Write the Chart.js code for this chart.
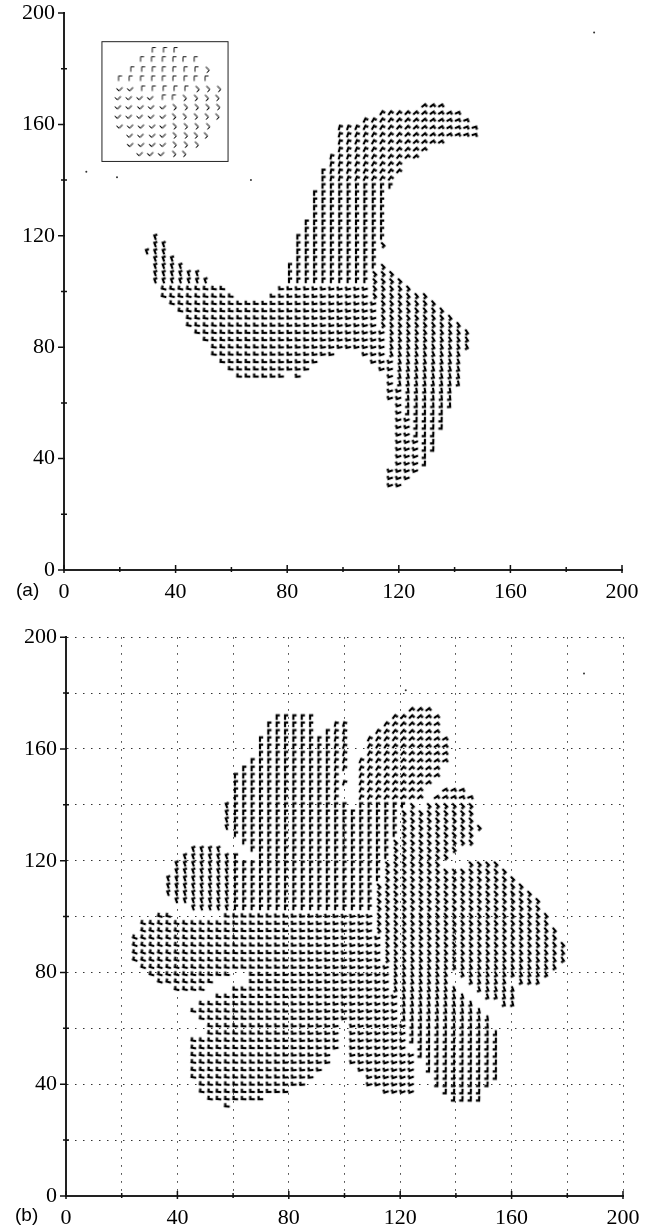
<!DOCTYPE html>
<html>
<head>
<meta charset="utf-8">
<script src="https://cdn.jsdelivr.net/npm/chart.js@4"></script>
<style>
html,body{margin:0;padding:0;background:#fff;}
#page{position:relative;width:665px;height:1228px;overflow:hidden;}
canvas{position:absolute;left:0;}
.tag{position:absolute;font-family:"Liberation Sans",sans-serif;font-size:19px;color:#000;}
</style>
</head>
<body>
<div id="page">
<canvas id="graficaA" width="665" height="620" style="top:-10px"></canvas>
<canvas id="graficaB" width="665" height="613" style="top:615px"></canvas>
<div class="tag" style="left:16px;top:579px">(a)</div>
<div class="tag" style="left:15px;top:1204px">(b)</div>
</div>
<script>
const tickValues = [0,20,40,60,80,100,120,140,160,180,200];
const tickLabels = ['0','','40','','80','','120','','160','','200'];

// each row: y first, then the x of every mark in that row
const filasA = [
[166.4,129,132,135],
[163.8,114,117,120,123,126,129,132,135,138,141],
[161.2,108,111,114,117,120,123,126,129,132,135,138,141,144],
[158.6,99,102,105,108,111,114,117,120,123,126,129,132,135,138,141,144,147],
[156,99,102,105,108,111,114,117,120,123,126,129,132,135,138,141,144,147],
[153.4,99,102,105,108,111,114,117,120,123,126,129,132,135],
[150.7,99,102,105,108,111,114,117,120,123,126,129],
[148.1,96,99,102,105,108,111,114,117,120,123,126],
[145.5,96,99,102,105,108,111,114,117,120],
[142.9,93,96,99,102,105,108,111,114,117,120],
[140.3,93,96,99,102,105,108,111,114,117],
[137.7,93,96,99,102,105,108,111,114,117],
[135.1,90,93,96,99,102,105,108,111,114],
[132.5,90,93,96,99,102,105,108,111,114],
[129.9,90,93,96,99,102,105,108,111,114],
[127.2,90,93,96,99,102,105,108,111,114],
[124.6,87,90,93,96,99,102,105,108,111,114],
[122,87,90,93,96,99,102,105,108,111,114],
[119.4,33,84,87,90,93,96,99,102,105,108,111,114],
[116.8,33,36,84,87,90,93,96,99,102,105,108,111,114],
[114.2,30,33,36,84,87,90,93,96,99,102,105,108,111],
[111.6,33,36,39,84,87,90,93,96,99,102,105,108,111],
[109,33,36,39,42,81,84,87,90,93,96,99,102,105,108,111,114],
[106.4,33,36,39,42,45,48,81,84,87,90,93,96,99,102,105,108,111,114,117],
[103.8,33,36,39,42,45,48,51,81,84,87,90,93,96,99,102,105,108,111,114,117,120],
[101.2,36,39,42,45,48,51,54,57,78,81,84,87,90,93,96,99,102,105,108,111,114,117,120,123],
[98.5,36,39,42,45,48,51,54,57,60,75,78,81,84,87,90,93,96,99,102,105,108,111,114,117,120,123,126,129],
[95.9,39,42,45,48,51,54,57,60,63,66,69,72,75,78,81,84,87,90,93,96,99,102,105,108,111,114,117,120,123,126,129,132],
[93.3,42,45,48,51,54,57,60,63,66,69,72,75,78,81,84,87,90,93,96,99,102,105,108,111,114,117,120,123,126,129,132,135],
[90.7,45,48,51,54,57,60,63,66,69,72,75,78,81,84,87,90,93,96,99,102,105,108,111,114,117,120,123,126,129,132,135,138],
[88.1,45,48,51,54,57,60,63,66,69,72,75,78,81,84,87,90,93,96,99,102,105,108,111,114,117,120,123,126,129,132,135,138,141],
[85.5,48,51,54,57,60,63,66,69,72,75,78,81,84,87,90,93,96,99,102,105,108,111,114,117,120,123,126,129,132,135,138,141,144],
[82.9,51,54,57,60,63,66,69,72,75,78,81,84,87,90,93,96,99,102,105,108,111,114,117,120,123,126,129,132,135,138,141,144],
[80.3,54,57,60,63,66,69,72,75,78,81,84,87,90,93,96,99,102,105,108,111,114,117,120,123,126,129,132,135,138,141,144],
[77.7,54,57,60,63,66,69,72,75,78,81,84,87,90,93,96,108,111,114,117,120,123,126,129,132,135,138,141],
[75,57,60,63,66,69,72,75,78,81,84,87,90,111,114,117,120,123,126,129,132,135,138,141],
[72.4,60,63,66,69,72,75,78,81,84,87,114,117,120,123,126,129,132,135,138,141],
[69.8,63,66,69,72,75,78,84,117,120,123,126,129,132,135,138,141],
[67.2,117,120,123,126,129,132,135,138,141],
[64.6,117,120,123,126,129,132,135,138],
[62,117,120,123,126,129,132,135,138],
[59.4,120,123,126,129,132,135,138],
[56.8,120,123,126,129,132,135],
[54.2,120,123,126,129,132,135],
[51.6,120,123,126,129,132,135],
[48.9,120,123,126,129,132],
[46.3,120,123,126,129,132],
[43.7,120,123,126,129,132],
[41.1,120,123,126,129],
[38.5,120,123,126,129],
[35.9,117,120,123,126],
[33.3,117,120,123],
[30.7,117,120]
];

const filasB = [
[173.8,124,127,130],
[171.2,76,79,82,85,88,118,121,124,127,130,133],
[168.6,73,76,79,82,85,88,97,100,115,118,121,124,127,130,133],
[165.9,73,76,79,82,85,88,94,97,100,112,115,118,121,124,127,130,133],
[163.3,70,73,76,79,82,85,88,91,94,97,100,109,112,115,118,121,124,127,130,133,136],
[160.7,70,73,76,79,82,85,88,91,94,97,100,109,112,115,118,121,124,127,130,133,136],
[158.1,70,73,76,79,82,85,88,91,94,97,100,109,112,115,118,121,124,127,130,133,136],
[155.5,67,70,73,76,79,82,85,88,91,94,97,100,106,109,112,115,118,121,124,127,130,133,136],
[152.8,64,67,70,73,76,79,82,85,88,91,94,97,100,106,109,112,115,118,121,124,127,130,133],
[150.2,61,64,67,70,73,76,79,82,85,88,91,94,97,106,109,112,115,118,121,124,127,130,133],
[147.6,61,64,67,70,73,76,79,82,85,88,91,94,97,100,106,109,112,115,118,121,124,127,130],
[145,61,64,67,70,73,76,79,82,85,88,91,94,97,106,109,112,115,118,121,124,127,136,139,142],
[142.4,61,64,67,70,73,76,79,82,85,88,91,94,97,106,109,112,115,118,121,124,127,133,136,139,142,145],
[139.7,58,61,64,67,70,73,76,79,82,85,88,91,94,97,100,106,109,112,115,118,121,124,130,133,136,139,142,145],
[137.1,58,61,64,67,70,73,76,79,82,85,88,91,94,97,100,103,106,109,112,115,118,121,124,127,130,133,136,139,142,145],
[134.5,58,61,64,67,70,73,76,79,82,85,88,91,94,97,100,103,106,109,112,115,118,121,124,127,130,133,136,139,142,145],
[131.9,58,61,64,67,70,73,76,79,82,85,88,91,94,97,100,103,106,109,112,115,118,121,124,127,130,133,136,139,142,145,148],
[129.3,61,64,67,70,73,76,79,82,85,88,91,94,97,100,103,106,109,112,115,118,121,124,127,130,133,136,139,142,145],
[126.6,64,67,70,73,76,79,82,85,88,91,94,97,100,103,106,109,112,115,118,121,124,127,130,133,136,139,142,145],
[124,46,49,52,55,67,70,73,76,79,82,85,88,91,94,97,100,103,106,109,112,115,118,121,124,127,130,133,136,139],
[121.4,43,46,49,52,55,58,61,70,73,76,79,82,85,88,91,94,97,100,103,106,109,112,115,118,121,124,127,130,133,136],
[118.8,40,43,46,49,52,55,58,61,64,67,70,73,76,79,82,85,88,91,94,97,100,103,106,109,112,115,118,121,124,127,130,133,145,148,151,154],
[116.2,40,43,46,49,52,55,58,61,64,67,70,73,76,79,82,85,88,91,94,97,100,103,106,109,112,115,118,121,124,127,130,133,136,139,142,145,148,151,154,157],
[113.5,37,40,43,46,49,52,55,58,61,64,67,70,73,76,79,82,85,88,91,94,97,100,103,106,109,112,115,118,121,124,127,130,133,136,139,142,145,148,151,154,157,160],
[110.9,37,40,43,46,49,52,55,58,61,64,67,70,73,76,79,82,85,88,91,94,97,100,103,106,109,112,115,118,121,124,127,130,133,136,139,142,145,148,151,154,157,160,163],
[108.3,37,40,43,46,49,52,55,58,61,64,67,70,73,76,79,82,85,88,91,94,97,100,103,106,109,112,115,118,121,124,127,130,133,136,139,142,145,148,151,154,157,160,163,166],
[105.7,40,43,46,49,52,55,58,61,64,67,70,73,76,79,82,85,88,91,94,97,100,103,106,109,112,115,118,121,124,127,130,133,136,139,142,145,148,151,154,157,160,163,166,169],
[103.1,46,49,52,55,58,61,64,67,70,73,76,79,82,85,88,91,94,97,100,103,106,109,112,115,118,121,124,127,130,133,136,139,142,145,148,151,154,157,160,163,166,169],
[100.4,34,37,58,61,64,67,70,73,76,79,82,85,88,91,94,97,100,103,106,109,112,115,118,121,124,127,130,133,136,139,142,145,148,151,154,157,160,163,166,169,172],
[97.8,28,31,34,37,40,43,46,49,52,55,58,61,64,67,70,73,76,79,82,85,88,91,94,97,100,103,106,109,112,115,118,121,124,127,130,133,136,139,142,145,148,151,154,157,160,163,166,169,172],
[95.2,28,31,34,37,40,43,46,49,52,55,58,61,64,67,70,73,76,79,82,85,88,91,94,97,100,103,106,109,112,115,118,121,124,127,130,133,136,139,142,145,148,151,154,157,160,163,166,169,172,175],
[92.6,25,28,31,34,37,40,43,46,49,52,55,58,61,64,67,70,73,76,79,82,85,88,91,94,97,100,103,106,109,112,115,118,121,124,127,130,133,136,139,142,145,148,151,154,157,160,163,166,169,172,175],
[90,25,28,31,34,37,40,43,46,49,52,55,58,61,64,67,70,73,76,79,82,85,88,91,94,97,100,103,106,109,112,115,118,121,124,127,130,133,136,139,142,145,148,151,154,157,160,163,166,169,172,175,178],
[87.3,25,28,31,34,37,40,43,46,49,52,55,58,61,64,67,70,73,76,79,82,85,88,91,94,97,100,103,106,109,112,115,118,121,124,127,130,133,136,139,142,145,148,151,154,157,160,163,166,169,172,175,178],
[84.7,25,28,31,34,37,40,43,46,49,52,55,58,61,64,67,70,73,76,79,82,85,88,91,94,97,100,103,106,109,112,115,118,121,124,127,130,133,136,139,142,145,148,151,154,157,160,163,166,169,172,175,178],
[82.1,28,31,34,37,40,43,46,49,52,55,58,61,64,67,70,73,76,79,82,85,88,91,94,97,100,103,106,109,112,115,118,121,124,127,130,133,136,139,142,145,148,151,154,157,160,163,166,169,172,175],
[79.5,31,34,37,40,43,46,49,52,55,58,67,70,73,76,79,82,85,88,91,94,97,100,103,106,109,112,115,118,121,124,127,130,133,136,142,145,148,151,154,157,160,163,166,169,172],
[76.9,34,37,40,43,46,49,52,67,70,73,76,79,82,85,88,91,94,97,100,103,106,109,112,115,118,121,124,127,130,133,136,145,148,151,154,157,163,166,169],
[74.2,40,43,46,49,61,64,67,70,73,76,79,82,85,88,91,94,97,100,103,106,109,112,115,118,121,124,127,130,133,136,139,148,151,154,157,160],
[71.6,55,58,61,64,67,70,73,76,79,82,85,88,91,94,97,100,103,106,109,112,115,118,121,124,127,130,133,136,139,142,151,154,157,160],
[69,49,52,55,58,61,64,67,70,73,76,79,82,85,88,91,94,97,100,103,106,109,112,115,118,121,124,127,130,133,136,139,142,145,157,160],
[66.4,46,49,52,55,58,61,64,67,70,73,76,79,82,85,88,91,94,97,100,103,106,109,112,115,118,121,124,127,130,133,136,139,142,145,148],
[63.8,49,52,55,58,61,64,67,70,73,76,79,82,85,88,91,94,97,100,103,106,109,112,115,118,121,124,127,130,133,136,139,142,145,148,151],
[61.1,52,55,58,61,64,67,70,73,76,79,82,85,88,91,94,97,103,106,109,112,115,118,121,124,127,130,133,136,139,142,145,148,151],
[58.5,52,55,58,61,64,67,70,73,76,79,82,85,88,91,94,97,103,106,109,112,115,118,121,124,127,130,133,136,139,142,145,148,151,154],
[55.9,46,49,52,55,58,61,64,67,70,73,76,79,82,85,88,91,94,97,103,106,109,112,115,118,121,124,127,130,133,136,139,142,145,148,151,154],
[53.3,46,49,52,55,58,61,64,67,70,73,76,79,82,85,88,91,94,97,103,106,109,112,115,118,121,127,130,133,136,139,142,145,148,151,154],
[50.7,46,49,52,55,58,61,64,67,70,73,76,79,82,85,88,91,94,103,106,109,112,115,118,121,124,127,130,133,136,139,142,145,148,151,154],
[48.1,46,49,52,55,58,61,64,67,70,73,76,79,82,85,88,91,94,103,106,109,112,115,118,121,124,130,133,136,139,142,145,148,151,154],
[45.4,46,49,52,55,58,61,64,67,70,73,76,79,82,85,88,91,106,109,112,115,118,121,124,130,133,136,139,142,145,148,151,154],
[42.8,46,49,52,55,58,61,64,67,70,73,76,79,82,85,88,109,112,115,118,121,124,133,136,139,142,145,148,151,154],
[40.2,49,52,55,58,61,64,67,70,73,76,79,82,85,109,112,115,118,121,124,133,136,139,142,145,148,151],
[37.6,49,52,55,58,61,64,67,70,73,76,79,115,118,121,124,136,139,142,145,148],
[35,52,55,58,61,64,67,70,139,142,145,148],
[32.4,58]
];

// small field drawn inside the box of panel (a), three groups of mark direction
const insetArriba = [
[186.7,32,36,39.8],
[183.4,27.8,31.7,35.6,39.4,43,47],
[179.8,24.3,28.2,32,35.6,39.4,43.4,47.3],
[176.5,19.9,23.7,27.8,31.8,35.6,39.4,43.4,47,50.9],
[172.9,28.2,32,35.9,39.8,43.7],
[169.7,35.6,39.2],
];
const insetDerecha = [
[179.8,51.2],
[172.9,47.6,51.4,55.3],
[169.7,43,47,50.9,54.7],
[166.4,39.4,43.4,47.3,51.2,55],
[163,39.2,43,47,50.9,54.7],
[159.5,39.4,43.4,47.3,51.4],
[156.2,39.4,43.4,47,50.6],
[152.9,39.4,43.4,47.3],
[149.6,39.2,42.8]
];
const insetAbajo = [
[172.9,20.1,23.9],
[169.7,19.5,23.4,27.3,31.1],
[166.4,19.5,23.4,27.6,31.4,35.6],
[163,19.5,23.4,27.3,31.4,35.6],
[159.5,20.1,23.9,27.8,31.8,35.6],
[156.2,23.7,27.6,31.8,35.6],
[152.9,23.9,27.8,31.8,35.6],
[149.6,27.3,31.1,35]
];
const manchasA = [[8,143],[19,141],[67,140],[190,193]];
const manchasB = [[186,187],[122,181]];

function puntos(filas){
    var salida = [];
    for (var i = 0; i < filas.length; i++){
        for (var j = 1; j < filas[i].length; j++){
            salida.push({x: filas[i][j], y: filas[i][0]});
        }
    }
    return salida;
}

// one small mark, vertex at the top left, long stem and short flag
function crearMarca(grosor, largo, corto, color){
    var c = document.createElement('canvas');
    c.width = 18;
    c.height = 18;
    var ctx = c.getContext('2d');
    ctx.translate(9, 9);
    ctx.strokeStyle = color;
    ctx.lineWidth = grosor;
    ctx.lineJoin = 'miter';
    ctx.beginPath();
    ctx.moveTo(-1, largo / 2);
    ctx.lineTo(-1, -largo / 2);
    ctx.lineTo(-1 + corto, -largo / 2);
    ctx.stroke();
    return c;
}
const marcaGruesa = crearMarca(2.2, 4.6, 3.2, '#000');
const marcaFina = crearMarca(1, 5, 3.5, '#111');

function rotacionCampo(c){
    if (!c.raw) return 0;
    var x = c.raw.x, y = c.raw.y;
    if (y < 101.5){
        if (x < 110 + (100 - y) * 0.3) return 288 - Math.max(x - 25, 0) * 0.4;
        return 140 + Math.min(Math.max(90 - y, 0) / 35, 1) * 42;
    }
    if (x < 60) return 340;
    if (y > 140 && x > 95) return Math.min(10 + (x - 95) * 1.2, 80);
    if (x > 108 + (y - 100) * 0.35) return 135;
    return 0;
}

const ejesPlugin = {
    id: 'ejes',
    afterDatasetsDraw(chart){
        var ctx = chart.ctx, sx = chart.scales.x, sy = chart.scales.y;
        ctx.save();
        ctx.strokeStyle = '#111';
        ctx.lineWidth = 1.5;
        ctx.beginPath();
        for (var i = 0; i < tickValues.length; i++){
            var mayor = tickValues[i] % 40 === 0;
            var px = sx.getPixelForValue(tickValues[i]);
            var py = sy.getPixelForValue(tickValues[i]);
            ctx.moveTo(px, sy.bottom - (mayor ? 5 : 3));
            ctx.lineTo(px, sy.bottom + (mayor ? 3 : 2));
            ctx.moveTo(sx.left - (mayor ? 6 : 3), py);
            ctx.lineTo(sx.left + (mayor ? 1 : 3), py);
        }
        ctx.stroke();
        var caja = chart.options.plugins.ejes.caja;
        if (caja){
            ctx.lineWidth = 1;
            ctx.strokeStyle = '#222';
            var x1 = sx.getPixelForValue(caja[0]), x2 = sx.getPixelForValue(caja[1]);
            var y1 = sy.getPixelForValue(caja[3]), y2 = sy.getPixelForValue(caja[2]);
            ctx.strokeRect(x1, y1, x2 - x1, y2 - y1);
        }
        ctx.restore();
    }
};

function crearEje(rejilla, afterFit, padding){
    return {
        type: 'linear',
        min: 0,
        max: 200,
        afterBuildTicks(scale){ scale.ticks = tickValues.map(function(v){ return {value: v}; }); },
        afterFit: afterFit,
        border: {display: true, color: '#222', width: 2, dash: rejilla ? [1.5, 6.5] : []},
        grid: {display: rejilla, drawTicks: false, color: '#333', lineWidth: 1},
        ticks: {
            autoSkip: false,
            maxRotation: 0,
            padding: padding,
            color: '#000',
            font: {family: '"Liberation Serif", serif', size: 22},
            callback: function(v){ return tickLabels[tickValues.indexOf(v)]; }
        }
    };
}

function crearGrafica(id, datasets, rejilla, anchoY, altoX, padding, caja){
    return new Chart(document.getElementById(id), {
        type: 'scatter',
        data: {datasets: datasets},
        options: {
            responsive: false,
            animation: false,
            events: [],
            layout: {padding: padding},
            plugins: {legend: {display: false}, tooltip: {enabled: false}, ejes: {caja: caja}},
            scales: {
                x: crearEje(rejilla, function(s){ s.height = altoX; }, 9),
                y: crearEje(rejilla, function(s){ s.width = anchoY; }, 9)
            }
        },
        plugins: [ejesPlugin]
    });
}

function manchas(lista){
    return {
        data: lista.map(function(p){ return {x: p[0], y: p[1]}; }),
        pointRadius: 1,
        pointBorderWidth: 0,
        pointBackgroundColor: '#333'
    };
}

crearGrafica('graficaA', [
    {data: puntos(filasA), pointStyle: marcaGruesa, pointRotation: rotacionCampo},
    {data: puntos(insetArriba), pointStyle: marcaFina, pointRotation: 0},
    {data: puntos(insetDerecha), pointStyle: marcaFina, pointRotation: 135},
    {data: puntos(insetAbajo), pointStyle: marcaFina, pointRotation: 225},
    manchas(manchasA)
], false, 64, 40, {top: 23, right: 43, left: 0, bottom: 0}, [13.6, 58.8, 146.7, 189.7]);

crearGrafica('graficaB', [
    {data: puntos(filasB), pointStyle: marcaGruesa, pointRotation: rotacionCampo},
    manchas(manchasB)
], true, 66, 32, {top: 21, right: 42, left: 0, bottom: 0}, null);
</script>
</body>
</html>
